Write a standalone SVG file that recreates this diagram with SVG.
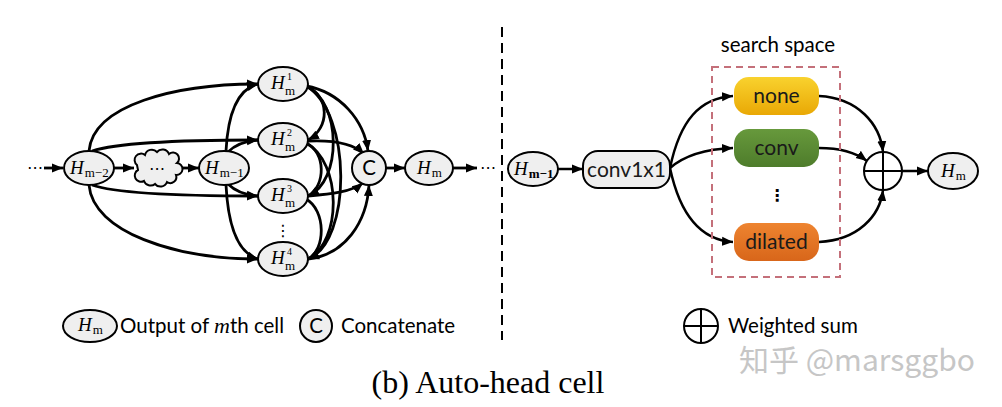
<svg xmlns="http://www.w3.org/2000/svg" width="1002" height="407" viewBox="0 0 1002 407">
<defs>
<marker id="ah" markerUnits="userSpaceOnUse" markerWidth="12" markerHeight="10" refX="11" refY="5" orient="auto"><path d="M0,0.5 L11,5 L0,9.5 z" fill="#000"/></marker>
<linearGradient id="gy" x1="0" y1="0" x2="0" y2="1"><stop offset="0" stop-color="#f9d22e"/><stop offset="1" stop-color="#e9a805"/></linearGradient>
<linearGradient id="gg" x1="0" y1="0" x2="0" y2="1"><stop offset="0" stop-color="#67993c"/><stop offset="1" stop-color="#4e7c2b"/></linearGradient>
<linearGradient id="go" x1="0" y1="0" x2="0" y2="1"><stop offset="0" stop-color="#ee8430"/><stop offset="1" stop-color="#d8661a"/></linearGradient>
</defs>
<style>
.nd{fill:#efefef;stroke:#000;stroke-width:2}
.cn{fill:none;stroke:#000;stroke-width:2.8;marker-end:url(#ah)}
.cr{fill:none;stroke:#000;stroke-width:2.5;marker-end:url(#ah)}
.H{font-family:"Liberation Serif","DejaVu Serif",serif;font-style:italic;font-size:19px}
.sb{font-family:"Liberation Serif","DejaVu Serif",serif;font-style:normal;font-size:13px}
.sp{font-family:"Liberation Serif","DejaVu Serif",serif;font-size:10px}
.sans{font-family:Lato,"Open Sans","Liberation Sans",sans-serif;font-size:20.5px;fill:#000}
.box{font-family:Lato,"Open Sans","Liberation Sans",sans-serif;font-size:21px;fill:#1a1a1a;text-anchor:middle}
.dots{font-family:"DejaVu Sans",sans-serif;font-size:16px;text-anchor:middle}
</style>
<rect width="1002" height="407" fill="#fff"/>

<g id="connectors">
<line class="cn" x1="44" y1="168" x2="63" y2="168"/>
<line class="cn" x1="114" y1="168" x2="134" y2="168"/>
<line class="cn" x1="179" y1="168" x2="199" y2="168"/>
<path class="cn" d="M89,151 C93,105 175,84 258,84"/>
<path class="cn" d="M92,151 C120,142 200,140 258,140"/>
<path class="cn" d="M92,185 C120,195 200,196 258,196"/>
<path class="cn" d="M89,185 C93,232 175,259 258,259"/>
<path class="cn" d="M226,151 C228,112 238,89 258,84"/>
<path class="cn" d="M228,152 C236,144 245,141 258,140"/>
<path class="cn" d="M228,184 C236,192 245,195 258,196"/>
<path class="cn" d="M226,185 C228,225 238,253 258,259"/>
<path class="cn" d="M306,86 C330,96 330,128 308,140"/>
<path class="cn" d="M306,86 C342,102 342,182 308,196"/>
<path class="cn" d="M306,86 C352,112 352,242 308,259"/>
<path class="cn" d="M306,86 C340,92 364,120 368,151"/>
<path class="cn" d="M308,141 C330,140 352,142 364,154"/>
<path class="cn" d="M306,143 C326,152 326,186 308,196"/>
<path class="cn" d="M306,143 C342,162 342,242 308,259"/>
<path class="cn" d="M308,196 C330,194 352,192 363,183"/>
<path class="cn" d="M306,199 C326,210 326,250 308,259"/>
<path class="cn" d="M308,259 C345,255 367,222 369,185"/>
<line class="cn" x1="386" y1="168" x2="405" y2="168"/>
<line class="cn" x1="453" y1="168" x2="477" y2="168"/>
<line class="cr" x1="558" y1="169" x2="583" y2="169"/>
<path class="cr" d="M670,168 C680,120 700,98 733,96"/>
<path class="cr" d="M670,168 C685,155 705,149 733,148"/>
<path class="cr" d="M670,168 C680,215 700,240 733,242"/>
<path class="cr" d="M819,96 C858,98 880,124 883,152"/>
<path class="cr" d="M819,148 C840,148 855,152 867,161"/>
<path class="cr" d="M819,242 C858,240 880,216 883,190"/>
<line class="cr" x1="902" y1="171" x2="928" y2="171"/>
</g>

<line x1="502" y1="27" x2="502" y2="340" stroke="#000" stroke-width="2" stroke-dasharray="10,6"/>
<text class="dots" x="35" y="173">⋯</text>
<text class="dots" x="488" y="173">⋯</text>

<g id="n_hm2">
<ellipse class="nd" cx="89" cy="168" rx="25" ry="17"/>
<text class="H" x="70" y="174">H<tspan class="sb" dx="1" dy="3">m−2</tspan></text>
</g>
<g id="n_cloud">
<path class="nd" d="M137,165 a6,6 0 0 1 8,-10 a7,7 0 0 1 12,-3 a7,7 0 0 1 12,2 a6,6 0 0 1 8,9 a6,6 0 0 1 -1,12 a6,6 0 0 1 -9,7 a7,7 0 0 1 -12,2 a7,7 0 0 1 -11,-3 a6,6 0 0 1 -6,-11 z"/>
<text class="dots" x="157" y="174">⋯</text>
</g>
<g id="n_hm1">
<ellipse class="nd" cx="224" cy="168" rx="25" ry="17"/>
<text class="H" x="205" y="174">H<tspan class="sb" dx="1" dy="3">m−1</tspan></text>
</g>
<g id="n_h1">
<ellipse class="nd" cx="283" cy="84" rx="25" ry="17"/>
<text class="H" x="271" y="89">H</text>
<text class="sb" x="285" y="95">m</text>
<text class="sp" x="287" y="80">1</text>
</g>
<g id="n_h2">
<ellipse class="nd" cx="283" cy="140" rx="25" ry="17"/>
<text class="H" x="271" y="145">H</text>
<text class="sb" x="285" y="151">m</text>
<text class="sp" x="287" y="136">2</text>
</g>
<g id="n_h3">
<ellipse class="nd" cx="283" cy="196" rx="25" ry="17"/>
<text class="H" x="271" y="201">H</text>
<text class="sb" x="285" y="207">m</text>
<text class="sp" x="287" y="192">3</text>
</g>
<text class="dots" x="283" y="236">⋮</text>
<g id="n_h4">
<ellipse class="nd" cx="283" cy="259" rx="25" ry="17"/>
<text class="H" x="271" y="264">H</text>
<text class="sb" x="285" y="270">m</text>
<text class="sp" x="287" y="255">4</text>
</g>
<g id="n_c">
<circle class="nd" cx="369" cy="168" r="17"/>
<text class="sans" x="369" y="175" text-anchor="middle">C</text>
</g>
<g id="n_hm">
<ellipse class="nd" cx="429" cy="168" rx="24" ry="17"/>
<text class="H" x="417" y="174">H<tspan class="sb" dx="1" dy="3">m</tspan></text>
</g>

<g id="r_hm1">
<ellipse class="nd" cx="533" cy="169" rx="25" ry="17"/>
<text class="H" x="514" y="175">H<tspan class="sb" dx="1" dy="3" font-weight="bold">m−1</tspan></text>
</g>
<g id="r_conv1x1">
<rect class="nd" x="583" y="151" width="87" height="37" rx="15"/>
<text class="box" x="626.5" y="177" fill="#000">conv1x1</text>
</g>
<g id="search_space">
<rect x="712" y="67" width="128" height="210" fill="none" stroke="#c4707a" stroke-width="2" stroke-dasharray="7,5"/>
<text class="sans" x="778" y="52" text-anchor="middle" font-size="22">search space</text>
</g>
<g id="r_none">
<rect x="734" y="77" width="85" height="38" rx="15" fill="url(#gy)"/>
<text class="box" x="776.5" y="103">none</text>
</g>
<g id="r_conv">
<rect x="734" y="129" width="85" height="38" rx="15" fill="url(#gg)"/>
<text class="box" x="776.5" y="155">conv</text>
</g>
<text class="dots" x="777" y="201" font-weight="bold">⋮</text>
<g id="r_dilated">
<rect x="734" y="223" width="85" height="38" rx="15" fill="url(#go)"/>
<text class="box" x="776.5" y="249">dilated</text>
</g>
<g id="r_sum">
<circle cx="883" cy="171" r="19" fill="#fff" stroke="#000" stroke-width="2"/>
<path d="M864,171 H902 M883,152 V190" stroke="#000" stroke-width="2"/>
</g>
<g id="r_hm">
<ellipse class="nd" cx="953" cy="171" rx="25" ry="18"/>
<text class="H" x="941" y="177">H<tspan class="sb" dx="1" dy="3">m</tspan></text>
</g>

<g id="legend">
<ellipse class="nd" cx="90" cy="326" rx="27" ry="16"/>
<text class="H" x="78" y="331">H<tspan class="sb" dx="1" dy="3">m</tspan></text>
<text class="sans" x="120" y="333">Output of <tspan font-family="Liberation Serif,serif" font-style="italic" font-size="22">m</tspan>th cell</text>
<circle class="nd" cx="316" cy="326" r="16"/>
<text class="sans" x="316" y="333" text-anchor="middle">C</text>
<text class="sans" x="341" y="333">Concatenate</text>
<circle cx="701" cy="326" r="17" fill="#fff" stroke="#000" stroke-width="2"/>
<path d="M684,326 H718 M701,309 V343" stroke="#000" stroke-width="2"/>
<text class="sans" x="728" y="333">Weighted sum</text>
</g>
<text x="739" y="371" font-family="'Noto Sans CJK SC',sans-serif" font-size="30" fill="#c6c6c6">知乎 @marsggbo</text>
<text x="488" y="393" text-anchor="middle" font-family="'Liberation Serif',serif" font-size="32">(b) Auto-head cell</text>
</svg>
